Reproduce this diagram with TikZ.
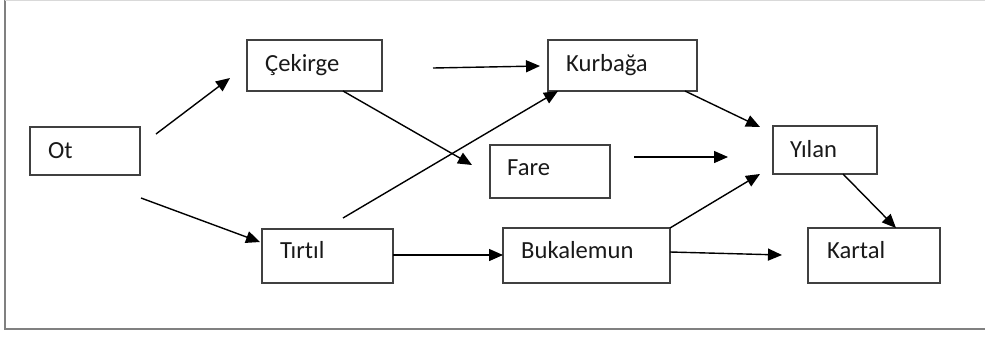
\documentclass[tikz,border=0pt]{standalone}
\usepackage{fontspec}
\setmainfont{Carlito}[Ligatures=NoCommon]
\usetikzlibrary{arrows.meta,calc}
\begin{document}
\begin{tikzpicture}[x=1pt,y=-1pt,
  box/.style={draw=black!75,line width=1.3pt,rectangle,inner sep=0pt,outer sep=0pt,anchor=north west},
  lbl/.style={inner sep=0pt,anchor=base west,text=black!90,font=\fontsize{24.6}{28}\selectfont},
  arr/.style={draw=black,line width=1.4pt,-{Triangle[length=14pt,width=12pt]}}]
\useasboundingbox (0,0) rectangle (985,338);
\begin{scope}
\clip (0,0) rectangle (985,338);
\draw[black!50,line width=1.4pt] (995,0.7) -- (5,0.7) -- (5,329) -- (995,329);
\draw[black!15,line width=1.2pt] (5,0.7) -- (995,0.7);
\end{scope}
% boxes
\node[box,minimum width=110pt,minimum height=48pt] (ot) at (30,127) {};
\node[box,minimum width=135pt,minimum height=51pt] (cek) at (247,40) {};
\node[box,minimum width=149pt,minimum height=51pt] (kur) at (548,40) {};
\node[box,minimum width=120pt,minimum height=53pt] (fare) at (490,145) {};
\node[box,minimum width=104pt,minimum height=48pt] (yil) at (773,126) {};
\node[box,minimum width=131pt,minimum height=54pt] (tir) at (262,229) {};
\node[box,minimum width=167pt,minimum height=55pt] (buk) at (503,228) {};
\node[box,minimum width=132pt,minimum height=55pt] (kar) at (808,228) {};
% labels
\node[lbl] (tot) at ($(ot.north west)+(18,31)$) {Ot};
\node[lbl] (tcek) at ($(cek.north west)+(18,31)$) {Çekirge};
\node[lbl] (tkur) at ($(kur.north west)+(18,31)$) {Kurbağa};
\node[lbl] (tfare) at ($(fare.north west)+(17,30)$) {Fare};
\node[lbl] (tyil) at ($(yil.north west)+(17,31)$) {Yılan};
\node[lbl] (ttir) at ($(tir.north west)+(18,29)$) {Tırtıl};
\node[lbl] (tbuk) at ($(buk.north west)+(18,30)$) {Bukalemun};
\node[lbl] (tkar) at ($(kar.north west)+(19,30)$) {Kartal};
% arrows
\draw[arr] ($(ot.north east)+(16,7)$) -- ($(cek.south west)+(-17,-13)$);
\draw[arr] ($(ot.south east)+(1,23)$) -- ($(tir.north west)+(-2,13)$);
\draw[arr] ($(cek.north east)+(51,28)$) -- ($(kur.north west)+(-8,26)$);
\draw[arr] ($(cek.south west)+(96,0)$) -- ($(fare.north west)+(-18,20)$);
\draw[arr] ($(tir.north west)+(81,-11)$) -- ($(kur.south west)+(10,0)$);
\draw[arr] ($(kur.south east)+(-12,0)$) -- ($(yil.north west)+(-13,1)$);
\draw[arr] ($(fare.north east)+(24,12)$) -- ($(yil.north west)+(-45,31)$);
\draw[arr] (buk.north east) -- ($(yil.south west)+(-13,0)$);
\draw[arr] ($(yil.south west)+(70,0)$) -- ($(kar.north west)+(88,0)$);
\draw[arr] ($(tir.north east)+(0,26)$) -- ($(buk.north west)+(0,27)$);
\draw[arr] ($(buk.north east)+(0,24)$) -- ($(kar.north west)+(-26,27)$);
\end{tikzpicture}
\end{document}
